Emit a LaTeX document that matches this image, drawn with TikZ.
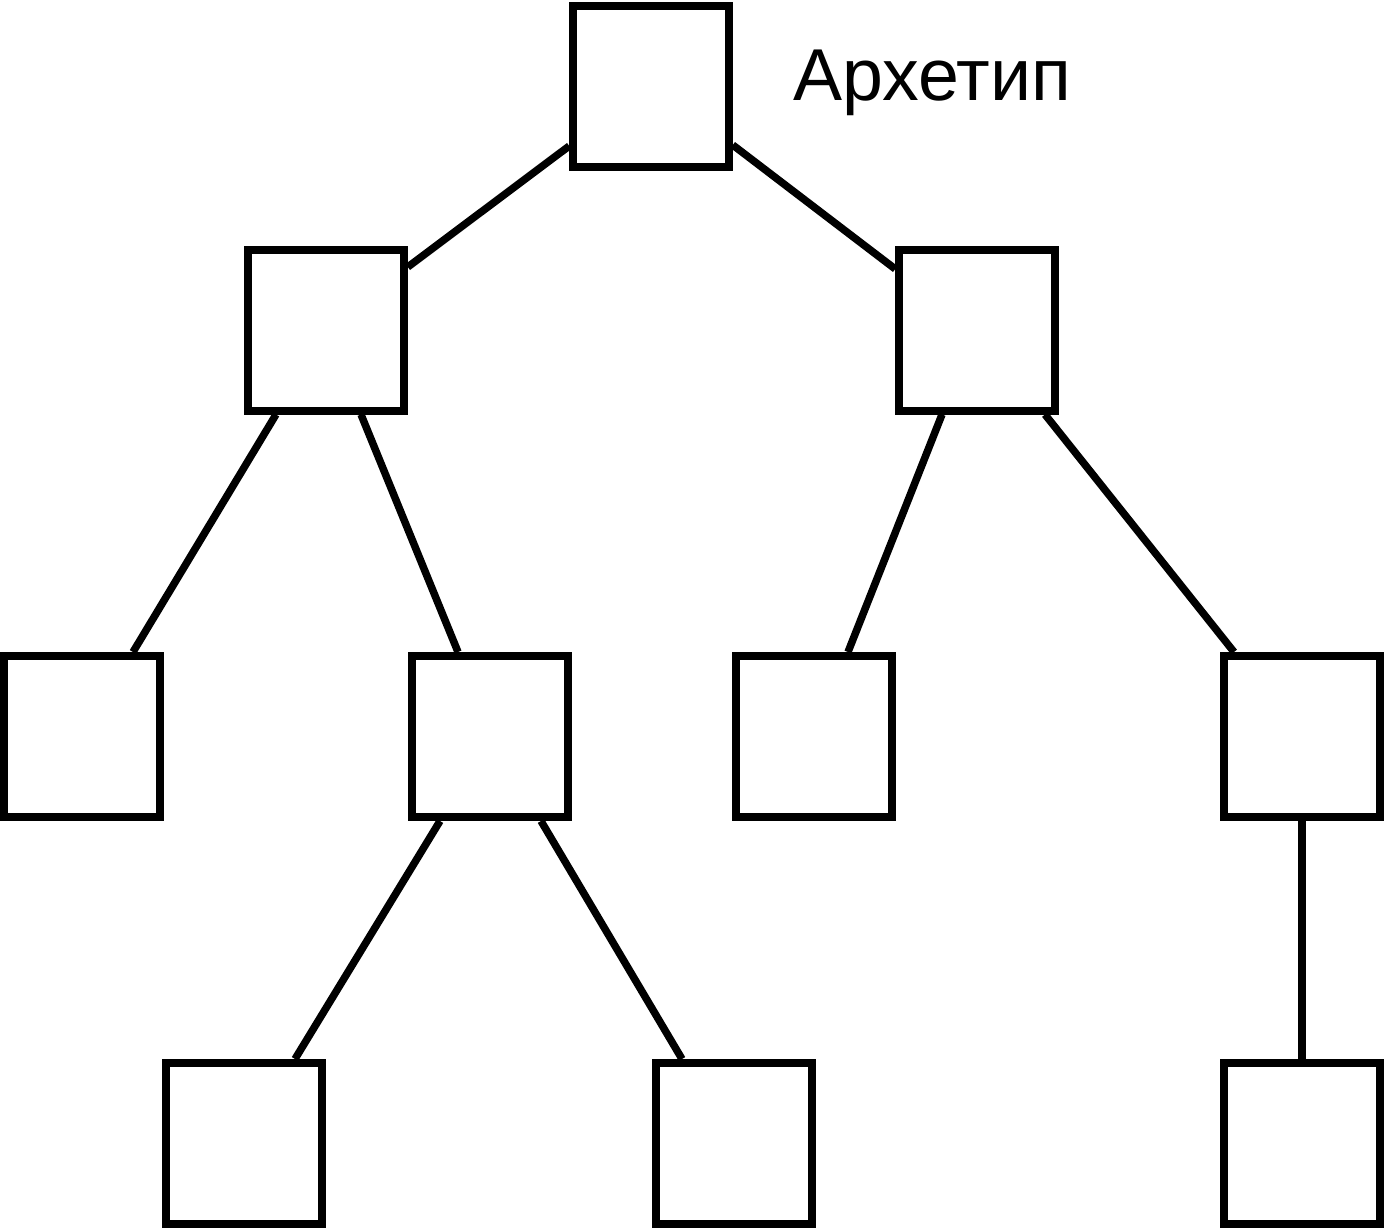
\documentclass[tikz,border=0pt]{standalone}
\usepackage{fontspec}
\setmainfont{Liberation Sans}
\begin{document}
\begin{tikzpicture}[x=1pt,y=-1pt,
  box/.style={draw=black, line width=8pt, fill=white, minimum width=155.5pt, minimum height=161pt, inner sep=0pt},
  edge/.style={draw=black, line width=7.5pt, line cap=butt},
  lbl/.style={inner sep=0pt, anchor=base west, font=\fontsize{73.5}{80}\selectfont}]
\useasboundingbox (0,0) rectangle (1389,1228);
% boxes
\node[box] (root) at (651,86.5) {};
\node[box] (l1l) at (326,330) {};
\node[box] (l1r) at (977,330) {};
\node[box] (a) at (82,736.5) {};
\node[box] (b) at (490,736.5) {};
\node[box] (c) at (814,736.5) {};
\node[box] (d) at (1302,736.5) {};
\node[box] (e) at (244,1143.5) {};
\node[box] (f) at (734,1143.5) {};
\node[box] (g) at (1302,1143.5) {};
% label
\node[lbl] (title) at (793,100.5) {Архетип};
% connectors
\draw[edge] ([yshift=-59.5pt]root.west) -- ([yshift=63pt]l1l.east);
\draw[edge] ([yshift=-58.5pt]root.east) -- ([yshift=61pt]l1r.west);
\draw[edge] ([xshift=-50pt]l1l.south) -- ([xshift=51pt]a.north);
\draw[edge] ([xshift=35pt]l1l.south) -- ([xshift=-32pt]b.north);
\draw[edge] ([xshift=-35pt]l1r.south) -- ([xshift=34pt]c.north);
\draw[edge] ([xshift=68pt]l1r.south) -- ([xshift=-68pt]d.north);
\draw[edge] ([xshift=-50pt]b.south) -- ([xshift=51pt]e.north);
\draw[edge] ([xshift=51pt]b.south) -- ([xshift=-52pt]f.north);
\draw[edge] (d.south) -- (g.north);
\end{tikzpicture}
\end{document}
